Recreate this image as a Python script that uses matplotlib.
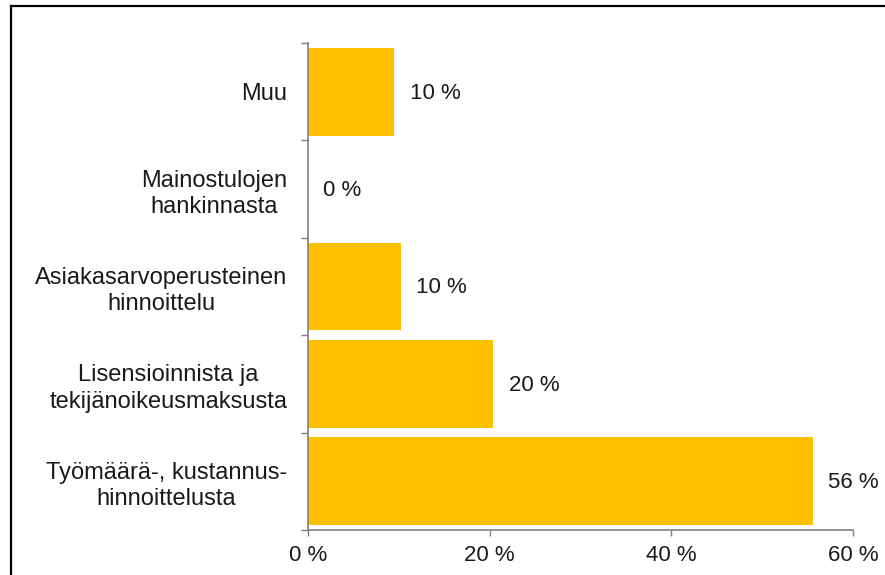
import matplotlib
matplotlib.use("Agg")
import matplotlib.pyplot as plt
from matplotlib.lines import Line2D
import numpy as np

# data (bottom -> top)
categories = [
    "Työmäärä-, kustannus-\nhinnoittelusta",
    "Lisensioinnista ja\ntekijänoikeusmaksusta",
    "Asiakasarvoperusteinen\nhinnoittelu",
    "Mainostulojen\nhankinnasta",
    "Muu",
]
values = [55.6, 20.4, 10.2, 0.0, 9.5]
value_labels = ["56 %", "20 %", "10 %", "0 %", "10 %"]
x_ticks = [0, 20, 40, 60]
x_tick_labels = ["0 %", "20 %", "40 %", "60 %"]

plt.rcParams['font.family'] = ['Liberation Sans', 'DejaVu Sans']
plt.rcParams['font.size'] = 16

fig = plt.figure(figsize=(8.85, 5.75), dpi=100)
ax = fig.add_axes([308 / 885, 1 - 530 / 575, 545 / 885, 487 / 575])

y = np.arange(len(categories))
ax.barh(y, values, height=0.9, color='#FFC000', edgecolor='none')

for yi, v, lab in zip(y, values, value_labels):
    ax.annotate(lab, (v, yi), xytext=(11, -1), textcoords='offset points',
                ha='left', va='center', color='#1a1a1a', fontsize=16)

ax.set_xlim(0, 60)
ax.set_ylim(-0.5, len(categories) - 0.5)

# x axis
ax.set_xticks(x_ticks)
ax.set_xticklabels(x_tick_labels, color='#1a1a1a', fontsize=16)
ax.tick_params(axis='x', length=4, width=1, color='#808080', pad=7)

# y axis: ticks at category borders, labels at centers
ax.set_yticks(np.arange(-0.5, len(categories), 1.0))
ax.set_yticklabels([])
ax.set_yticks(y, minor=True)
ax.set_yticklabels(categories, minor=True, color='#1a1a1a', fontsize=17)
ax.tick_params(axis='y', which='major', length=5, width=1, color='#808080')
ax.tick_params(axis='y', which='minor', length=0, pad=15)
for t in ax.get_yticklabels(minor=True):
    t.set_multialignment('center')
    t.set_linespacing(1.25)

for s in ['top', 'right']:
    ax.spines[s].set_visible(False)
for s in ['left', 'bottom']:
    ax.spines[s].set_color('#808080')
    ax.spines[s].set_linewidth(1.2)

# outer frame (top and left edges visible)
x0, y0 = 11 / 885, 1 - 6 / 575
fig.add_artist(Line2D([x0, 1.0], [y0, y0], transform=fig.transFigure,
                      color='black', linewidth=1.6))
fig.add_artist(Line2D([x0, x0], [0.0, y0], transform=fig.transFigure,
                      color='black', linewidth=1.6))

fig.savefig('out.png', dpi=100)
